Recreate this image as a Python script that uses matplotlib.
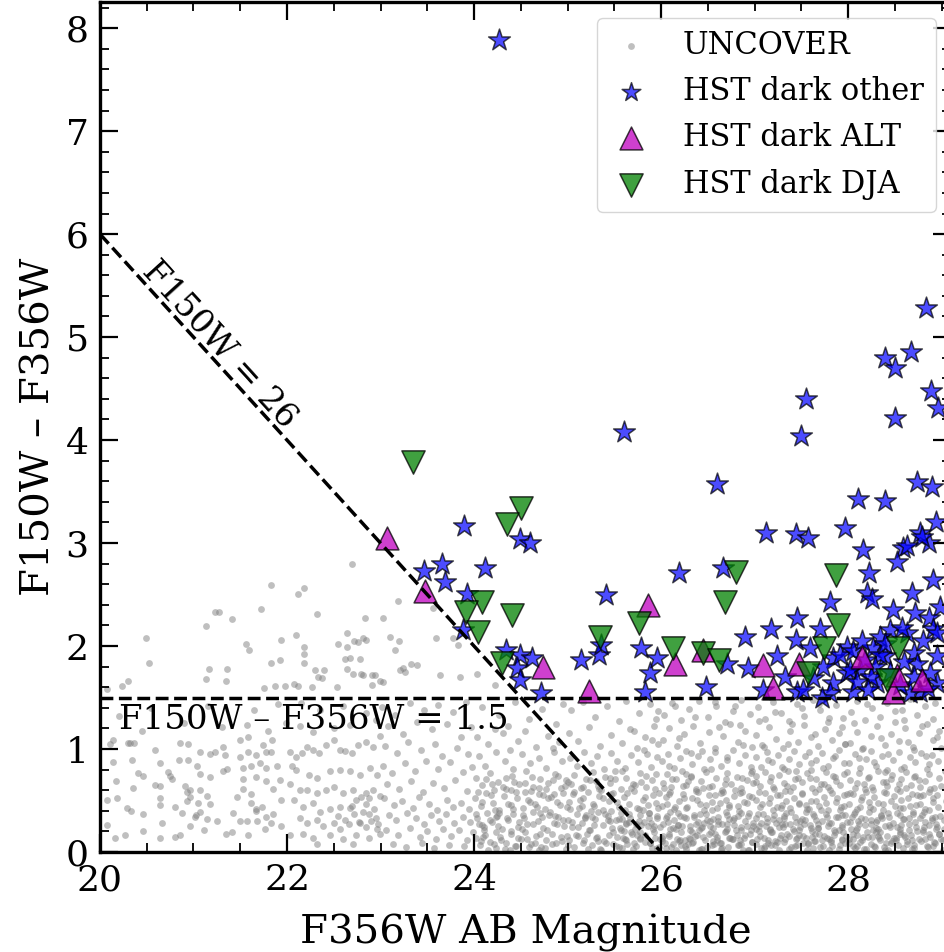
import matplotlib
matplotlib.use("Agg")
import matplotlib.pyplot as plt
from matplotlib.ticker import MultipleLocator

plt.rcParams['font.family'] = ['DejaVu Serif']

# UNCOVER background sources as (F356W, F150W-F356W)
uncover_upper = [(22.70,2.80),(21.83,2.59),(22.12,2.51),(22.18,2.56),(21.72,2.36),(21.23,2.33),(21.27,2.33),
    (21.41,2.26),(21.13,2.19),(22.32,2.31),(22.83,2.27),(23.03,2.27),(23.19,2.44),(20.49,2.08),(21.56,2.02),
    (21.59,1.96),(21.94,2.06),(22.10,2.11),(22.18,1.99),(22.18,1.92),(22.55,2.02),(22.64,2.13),(22.64,1.99),
    (22.72,2.05),(22.76,2.04),(22.85,2.06),(23.10,2.09),(23.20,2.05),(23.16,1.96),(20.52,1.84),(21.17,1.78),
    (21.36,1.78),(21.83,1.84),(21.93,1.86),(22.18,1.84),(21.13,1.68),(21.35,1.66),(22.30,1.77),(22.33,1.70),
    (22.37,1.69),(22.40,1.77),(22.62,1.87),(22.67,1.88),(22.78,1.87),(22.64,1.78),(22.71,1.73),(22.79,1.73),
    (22.91,1.72),(22.99,1.66),(23.21,1.77),(23.24,1.79),(23.33,1.83),(20.30,1.66),(20.24,1.61),(21.75,1.59),
    (21.87,1.61),(21.98,1.61),(22.07,1.63),(22.12,1.61),(22.27,1.60),(22.53,1.60),(22.91,1.62),(20.07,1.58),
    (23.56,2.37),(22.81,2.08),(23.59,2.08),(23.78,2.08),(23.83,2.01),(23.39,1.82),(23.26,1.75),(23.64,1.72),
    (23.85,1.70),(24.03,1.73),(22.94,1.72),(23.03,1.65),(24.22,1.62),(22.81,1.72)]

uncover_20 = [(20.14,1.09),(20.11,1.05),(20.14,0.87),(20.30,1.06),(20.36,1.06),(20.34,0.89),(20.41,0.77),
    (20.46,0.74),(20.17,0.69),(20.35,0.62),(20.18,0.52),(20.07,0.51),(20.29,0.43),(20.33,0.40),(20.46,0.37),
    (20.07,0.26),(20.27,0.17),(20.16,0.14),(20.46,0.20),(20.64,0.14),(20.59,0.99),(20.64,0.86),(20.73,0.78),
    (20.75,0.74),(20.59,0.65),(20.64,0.64),(20.77,0.71),(20.64,0.52),(20.64,0.46),(20.80,0.44),(20.66,0.28),
    (20.80,0.15),(20.86,0.17),(20.88,0.38),(20.86,1.06),(20.94,1.05),(20.84,0.89),(20.94,0.89),(20.91,0.64),
    (20.93,0.58),(20.96,0.53),(20.93,0.50),(20.96,0.60),(20.96,0.25),(20.20,1.32),(20.55,1.40),(20.90,1.25),
    (20.45,1.18),(20.32,1.06)]

uncover_21 = [(21.02,0.34),(21.07,0.97),(21.18,0.95),(21.23,0.97),(21.32,1.02),(21.34,0.94),(21.07,0.76),
    (21.18,0.73),(21.32,0.79),(21.36,0.81),(21.04,0.84),(21.07,0.60),(21.14,0.54),(21.05,0.48),(21.18,0.47),
    (21.07,0.39),(21.03,0.36),(21.14,0.32),(21.11,0.21),(21.25,0.30),(21.35,0.18),(21.42,0.38),(21.46,0.53),
    (21.53,0.61),(21.61,0.56),(21.61,0.48),(21.67,0.42),(21.67,0.40),(21.73,0.44),(21.78,0.34),(21.83,0.28),
    (21.85,0.37),(21.94,0.25),(21.50,0.30),(21.57,0.30),(21.68,0.30),(21.41,0.19),(21.58,0.17),(21.76,0.22),
    (21.50,1.09),(21.58,1.12),(21.74,1.04),(21.84,1.09),(21.50,0.92),(21.58,0.97),(21.67,0.94),(21.78,0.97),
    (21.83,0.97),(21.53,0.82),(21.62,0.84),(21.71,0.86),(21.78,0.82),(21.89,0.84),(21.53,0.71),(21.67,0.73),
    (21.78,0.69),(21.92,0.70),(21.85,0.61),(21.94,0.51),(21.99,1.25),(21.57,1.23),(21.80,1.18),(21.30,1.21),
    (21.15,1.42),(21.65,1.38),(21.90,1.44)]

uncover_22 = [(22.05,0.84),(22.03,0.97),(22.10,0.92),(22.16,0.96),(22.21,1.02),(22.28,0.99),(22.34,0.96),
    (22.42,1.04),(22.50,1.09),(22.57,0.99),(22.62,0.98),(22.69,0.96),(22.76,1.04),(22.85,1.07),(22.92,1.02),
    (22.99,1.13),(22.28,1.17),(22.50,1.20),(22.67,1.23),(22.14,1.22),(22.10,0.80),(22.23,0.75),(22.32,0.72),
    (22.46,0.79),(22.57,0.80),(22.67,0.79),(22.78,0.75),(22.89,0.82),(22.96,0.75),(22.03,0.66),(22.14,0.60),
    (22.21,0.60),(22.32,0.57),(22.42,0.60),(22.50,0.63),(22.60,0.57),(22.71,0.60),(22.74,0.51),(22.85,0.57),
    (22.92,0.60),(22.99,0.54),(22.07,0.51),(22.17,0.44),(22.28,0.48),(22.35,0.39),(22.46,0.42),(22.57,0.44),
    (22.67,0.43),(22.72,0.37),(22.81,0.39),(22.88,0.37),(22.95,0.33),(22.14,0.33),(22.21,0.28),(22.32,0.31),
    (22.39,0.25),(22.50,0.28),(22.57,0.22),(22.66,0.27),(22.78,0.28),(22.85,0.24),(22.96,0.22),(22.03,0.17),
    (22.17,0.18),(22.28,0.14),(22.46,0.17),(22.60,0.13),(22.74,0.17),(22.88,0.14),(22.99,0.18),(22.32,0.08),
    (22.71,0.08),(22.55,0.35),(22.62,0.31),(22.70,0.45),(22.77,0.29),(22.84,0.47),(22.90,0.30),(22.93,0.42),
    (22.97,0.27),(22.88,0.52),(22.79,0.53),(22.35,1.38),(22.60,1.42),(22.85,1.35),(22.15,1.45),(22.95,1.28)]

uncover_23 = [(23.02,1.41),(23.15,1.33),(23.31,1.45),(23.47,1.38),(23.62,1.43),(23.78,1.36),(23.91,1.46),
    (23.08,1.22),(23.24,1.15),(23.39,1.26),(23.55,1.19),(23.71,1.24),(23.86,1.12),(23.97,1.21),(23.05,1.03),
    (23.18,0.96),(23.29,1.07),(23.43,0.99),(23.58,1.05),(23.66,0.93),(23.82,1.01),(23.94,0.95),(23.03,0.84),
    (23.12,0.77),(23.26,0.86),(23.37,0.79),(23.49,0.88),(23.61,0.81),(23.74,0.87),(23.88,0.78),(23.98,0.83),
    (23.07,0.66),(23.20,0.61),(23.33,0.69),(23.45,0.58),(23.56,0.67),(23.68,0.62),(23.80,0.70),(23.92,0.59),
    (23.04,0.52),(23.14,0.46),(23.23,0.50),(23.35,0.43),(23.41,0.53),(23.52,0.47),(23.60,0.41),(23.71,0.51),
    (23.77,0.44),(23.86,0.48),(23.95,0.42),(23.09,0.36),(23.17,0.31),(23.28,0.38),(23.38,0.33),(23.46,0.27),
    (23.54,0.36),(23.63,0.30),(23.70,0.37),(23.79,0.28),(23.88,0.34),(23.96,0.29),(23.06,0.21),(23.19,0.17),
    (23.31,0.23),(23.42,0.15),(23.50,0.20),(23.59,0.13),(23.67,0.22),(23.75,0.16),(23.84,0.21),(23.93,0.12),
    (23.99,0.19),(23.13,0.08),(23.27,0.05),(23.44,0.09),(23.57,0.04),(23.73,0.07),(23.89,0.06)]

uncover_24 = [(24.08,1.41),(24.27,1.33),(24.44,1.46),(24.59,1.29),(24.73,1.39),(24.88,1.24),(24.95,1.44),
    (24.36,1.22),(24.03,1.12),(24.15,1.05),(24.31,1.16),(24.47,1.08),(24.55,1.18),(24.66,1.02),(24.79,1.13),
    (24.91,1.07),(24.22,1.19),(24.84,1.01),(24.05,0.93),(24.12,0.84),(24.24,0.97),(24.33,0.88),(24.42,0.81),
    (24.51,0.95),(24.60,0.86),(24.69,0.91),(24.77,0.82),(24.86,0.97),(24.94,0.88),(24.38,0.99),(24.02,0.72),
    (24.09,0.65),(24.17,0.77),(24.26,0.68),(24.34,0.61),(24.41,0.74),(24.48,0.66),(24.56,0.79),(24.63,0.63),
    (24.71,0.71),(24.79,0.67),(24.87,0.76),(24.93,0.62),(24.98,0.70),(24.21,0.60),(24.01,0.52),(24.07,0.45),
    (24.13,0.57),(24.20,0.48),(24.27,0.41),(24.32,0.54),(24.39,0.46),(24.45,0.58),(24.52,0.43),(24.58,0.51),
    (24.65,0.47),(24.70,0.56),(24.76,0.42),(24.82,0.53),(24.89,0.49),(24.95,0.57),(24.99,0.44),(24.61,0.59),
    (24.03,0.33),(24.08,0.26),(24.14,0.38),(24.19,0.29),(24.25,0.35),(24.30,0.22),(24.36,0.31),(24.42,0.37),
    (24.47,0.24),(24.53,0.33),(24.57,0.27),(24.63,0.39),(24.68,0.30),(24.74,0.23),(24.80,0.36),(24.85,0.28),
    (24.90,0.34),(24.96,0.25),(24.11,0.21),(24.71,0.38),(24.02,0.14),(24.06,0.07),(24.12,0.17),(24.17,0.10),
    (24.23,0.04),(24.28,0.15),(24.34,0.09),(24.40,0.18),(24.45,0.06),(24.50,0.13),(24.55,0.19),(24.61,0.08),
    (24.66,0.16),(24.72,0.05),(24.77,0.12),(24.83,0.18),(24.88,0.09),(24.93,0.15),(24.98,0.03),(24.38,0.02)]

uncover_25 = [(25.04,1.38),(25.17,1.46),(25.29,1.31),(25.42,1.42),(25.55,1.27),(25.63,1.47),(25.76,1.35),
    (25.88,1.44),(25.95,1.29),(25.02,1.16),(25.11,1.08),(25.23,1.21),(25.35,1.03),(25.46,1.14),(25.58,1.06),
    (25.67,1.19),(25.74,1.01),(25.83,1.12),(25.92,1.22),(25.97,1.05),(25.03,0.91),(25.10,0.84),(25.18,0.97),
    (25.25,0.86),(25.32,0.93),(25.39,0.81),(25.47,0.96),(25.53,0.88),(25.61,0.82),(25.68,0.94),(25.75,0.87),
    (25.82,0.99),(25.89,0.83),(25.96,0.92),(25.01,0.68),(25.07,0.75),(25.14,0.62),(25.20,0.71),(25.27,0.78),
    (25.33,0.64),(25.40,0.73),(25.45,0.67),(25.51,0.79),(25.57,0.61),(25.63,0.72),(25.70,0.66),(25.77,0.77),
    (25.84,0.63),(25.90,0.70),(25.95,0.76),(25.36,0.60),(25.02,0.49),(25.06,0.56),(25.12,0.43),(25.17,0.52),
    (25.22,0.58),(25.28,0.45),(25.34,0.54),(25.38,0.41),(25.44,0.50),(25.49,0.57),(25.55,0.44),(25.60,0.53),
    (25.66,0.47),(25.71,0.59),(25.76,0.42),(25.81,0.51),(25.86,0.46),(25.91,0.55),(25.97,0.43),(25.25,0.40),
    (25.01,0.31),(25.05,0.24),(25.10,0.37),(25.15,0.28),(25.19,0.34),(25.24,0.21),(25.29,0.32),(25.33,0.39),
    (25.38,0.26),(25.43,0.35),(25.48,0.23),(25.52,0.31),(25.57,0.38),(25.62,0.27),(25.67,0.33),(25.72,0.22),
    (25.77,0.36),(25.82,0.29),(25.87,0.38),(25.92,0.25),(25.96,0.33),(25.45,0.30),(25.02,0.12),(25.07,0.05),
    (25.11,0.16),(25.16,0.09),(25.21,0.18),(25.26,0.07),(25.30,0.14),(25.35,0.03),(25.39,0.11),(25.44,0.17),
    (25.49,0.08),(25.53,0.15),(25.58,0.04),(25.63,0.12),(25.68,0.19),(25.73,0.06),(25.78,0.13),(25.83,0.17),
    (25.88,0.09),(25.93,0.14),(25.98,0.05),(25.60,0.20)]

uncover_26 = [(26.03,1.33),(26.12,1.45),(26.21,1.28),(26.30,1.39),(26.41,1.47),(26.50,1.31),(26.59,1.42),
    (26.68,1.26),(26.77,1.37),(26.86,1.48),(26.95,1.34),(26.02,1.09),(26.09,1.20),(26.17,1.03),(26.25,1.15),
    (26.34,1.22),(26.42,1.06),(26.51,1.17),(26.58,1.01),(26.66,1.13),(26.74,1.24),(26.82,1.07),(26.90,1.18),
    (26.97,1.02),(26.01,0.88),(26.07,0.95),(26.14,0.82),(26.20,0.91),(26.27,0.98),(26.33,0.85),(26.39,0.93),
    (26.46,0.81),(26.52,0.90),(26.58,0.97),(26.64,0.84),(26.71,0.92),(26.77,0.99),(26.83,0.86),(26.90,0.94),
    (26.96,0.83),(26.02,0.67),(26.06,0.76),(26.11,0.63),(26.16,0.71),(26.22,0.79),(26.27,0.65),(26.32,0.74),
    (26.37,0.61),(26.43,0.69),(26.48,0.78),(26.54,0.64),(26.59,0.72),(26.65,0.60),(26.70,0.77),(26.75,0.66),
    (26.81,0.73),(26.86,0.62),(26.92,0.70),(26.97,0.79),(26.01,0.45),(26.05,0.53),(26.10,0.58),(26.14,0.42),
    (26.19,0.50),(26.23,0.56),(26.28,0.44),(26.33,0.52),(26.37,0.59),(26.42,0.47),(26.46,0.41),(26.51,0.55),
    (26.55,0.49),(26.60,0.43),(26.64,0.57),(26.69,0.51),(26.73,0.46),(26.78,0.54),(26.83,0.40),(26.87,0.58),
    (26.92,0.48),(26.97,0.53),(26.02,0.27),(26.06,0.35),(26.10,0.22),(26.14,0.31),(26.18,0.38),(26.22,0.25),
    (26.27,0.33),(26.31,0.21),(26.35,0.36),(26.39,0.29),(26.44,0.24),(26.48,0.37),(26.52,0.30),(26.56,0.23),
    (26.61,0.34),(26.65,0.27),(26.69,0.39),(26.73,0.32),(26.78,0.26),(26.82,0.35),(26.86,0.21),(26.90,0.30),
    (26.94,0.38),(26.98,0.25),(26.01,0.11),(26.05,0.04),(26.09,0.16),(26.13,0.08),(26.17,0.13),(26.21,0.19),
    (26.26,0.06),(26.30,0.14),(26.34,0.10),(26.38,0.17),(26.43,0.03),(26.47,0.12),(26.51,0.18),(26.55,0.07),
    (26.60,0.15),(26.64,0.09),(26.68,0.19),(26.72,0.05),(26.77,0.13),(26.81,0.17),(26.85,0.08),(26.89,0.14),
    (26.93,0.02),(26.97,0.10)]

uncover_27 = [(27.04,1.41),(27.11,1.29),(27.20,1.46),(27.28,1.35),(27.37,1.27),(27.45,1.44),(27.53,1.32),
    (27.62,1.48),(27.70,1.38),(27.79,1.26),(27.87,1.43),(27.95,1.30),(27.01,1.14),(27.08,1.04),(27.15,1.21),
    (27.23,1.10),(27.30,1.01),(27.38,1.18),(27.46,1.07),(27.53,1.23),(27.60,1.12),(27.68,1.03),(27.75,1.19),
    (27.83,1.09),(27.90,1.16),(27.97,1.05),(27.02,0.92),(27.07,0.83),(27.13,0.97),(27.19,0.87),(27.25,0.94),
    (27.31,0.81),(27.37,0.90),(27.42,0.98),(27.48,0.85),(27.54,0.93),(27.60,0.80),(27.66,0.89),(27.72,0.96),
    (27.78,0.84),(27.84,0.91),(27.90,0.99),(27.96,0.86),(27.01,0.74),(27.06,0.64),(27.11,0.78),(27.16,0.69),
    (27.21,0.61),(27.26,0.75),(27.31,0.67),(27.36,0.79),(27.41,0.63),(27.46,0.72),(27.51,0.68),(27.56,0.77),
    (27.61,0.62),(27.66,0.71),(27.71,0.66),(27.76,0.78),(27.81,0.60),(27.86,0.73),(27.91,0.65),(27.96,0.76),
    (27.02,0.51),(27.06,0.44),(27.11,0.57),(27.15,0.48),(27.20,0.41),(27.24,0.55),(27.29,0.46),(27.33,0.59),
    (27.38,0.43),(27.42,0.52),(27.47,0.47),(27.51,0.56),(27.56,0.42),(27.60,0.50),(27.65,0.58),(27.69,0.45),
    (27.74,0.53),(27.78,0.41),(27.83,0.57),(27.87,0.49),(27.92,0.44),(27.96,0.55),(27.01,0.33),(27.05,0.25),
    (27.09,0.37),(27.13,0.29),(27.17,0.22),(27.21,0.36),(27.26,0.31),(27.30,0.24),(27.34,0.38),(27.38,0.27),
    (27.43,0.34),(27.47,0.21),(27.51,0.32),(27.55,0.39),(27.59,0.26),(27.64,0.35),(27.68,0.23),(27.72,0.30),
    (27.76,0.37),(27.80,0.28),(27.85,0.21),(27.89,0.34),(27.93,0.26),(27.97,0.36),(27.02,0.08),(27.06,0.16),
    (27.10,0.04),(27.14,0.12),(27.18,0.19),(27.22,0.07),(27.27,0.14),(27.31,0.10),(27.35,0.18),(27.39,0.05),
    (27.44,0.13),(27.48,0.17),(27.52,0.09),(27.56,0.02),(27.61,0.15),(27.65,0.11),(27.69,0.18),(27.73,0.06),
    (27.77,0.14),(27.82,0.10),(27.86,0.19),(27.90,0.03),(27.94,0.12),(27.98,0.16)]

uncover_28 = [(28.03,1.36),(28.10,1.47),(28.18,1.28),(28.26,1.40),(28.34,1.31),(28.42,1.45),(28.50,1.26),
    (28.58,1.38),(28.66,1.49),(28.74,1.33),(28.82,1.42),(28.91,1.29),(28.02,1.06),(28.09,1.17),(28.16,1.01),
    (28.24,1.13),(28.31,1.22),(28.39,1.04),(28.46,1.15),(28.54,1.08),(28.61,1.20),(28.69,1.02),(28.76,1.16),
    (28.84,1.24),(28.91,1.09),(28.97,1.18),(28.01,0.86),(28.07,0.95),(28.13,0.82),(28.19,0.90),(28.25,0.98),
    (28.30,0.84),(28.36,0.93),(28.42,0.80),(28.48,0.89),(28.54,0.97),(28.60,0.83),(28.66,0.92),(28.72,0.87),
    (28.78,0.96),(28.84,0.81),(28.90,0.94),(28.96,0.88),(28.02,0.70),(28.07,0.62),(28.12,0.77),(28.17,0.66),
    (28.22,0.73),(28.27,0.60),(28.32,0.79),(28.37,0.68),(28.42,0.64),(28.47,0.75),(28.52,0.61),(28.57,0.71),
    (28.62,0.78),(28.67,0.65),(28.72,0.74),(28.77,0.63),(28.82,0.69),(28.87,0.76),(28.92,0.62),(28.97,0.72),
    (28.01,0.47),(28.05,0.56),(28.10,0.42),(28.14,0.51),(28.19,0.58),(28.23,0.44),(28.28,0.53),(28.32,0.48),
    (28.37,0.41),(28.41,0.57),(28.46,0.50),(28.50,0.45),(28.55,0.59),(28.59,0.43),(28.64,0.52),(28.68,0.56),
    (28.73,0.46),(28.77,0.54),(28.82,0.42),(28.86,0.58),(28.91,0.49),(28.95,0.55),(28.02,0.29),(28.06,0.37),
    (28.10,0.23),(28.14,0.33),(28.18,0.26),(28.22,0.39),(28.27,0.21),(28.31,0.31),(28.35,0.36),(28.39,0.25),
    (28.44,0.34),(28.48,0.28),(28.52,0.38),(28.56,0.22),(28.60,0.32),(28.65,0.27),(28.69,0.37),(28.73,0.24),
    (28.77,0.33),(28.81,0.39),(28.86,0.26),(28.90,0.31),(28.94,0.22),(28.98,0.35),(28.01,0.13),(28.05,0.06),
    (28.09,0.17),(28.13,0.10),(28.17,0.03),(28.21,0.15),(28.25,0.08),(28.30,0.19),(28.34,0.12),(28.38,0.05),
    (28.42,0.16),(28.46,0.09),(28.51,0.14),(28.55,0.18),(28.59,0.04),(28.63,0.11),(28.67,0.17),(28.71,0.07),
    (28.76,0.13),(28.80,0.19),(28.84,0.06),(28.88,0.15),(28.92,0.10),(28.97,0.18)]

# the crowded core of the cloud, below ~0.75
uncover_core = [(24.04,0.58),(24.11,0.24),(24.19,0.66),(24.07,0.11),(24.22,0.41),(24.15,0.02),(24.02,0.37),
    (24.24,0.19),(24.09,0.49),(24.17,0.31),(24.13,0.71),(24.21,0.08),(24.05,0.27),(24.18,0.55),(24.10,0.15),
    (24.23,0.34),(24.29,0.12),(24.36,0.47),(24.44,0.06),(24.31,0.63),(24.48,0.29),(24.27,0.38),(24.40,0.20),
    (24.34,0.72),(24.46,0.52),(24.33,0.03),(24.42,0.42),(24.26,0.25),(24.39,0.60),(24.47,0.14),(24.35,0.33),
    (24.43,0.68),(24.52,0.36),(24.59,0.05),(24.67,0.44),(24.55,0.67),(24.71,0.18),(24.63,0.27),(24.74,0.55),
    (24.57,0.13),(24.69,0.62),(24.51,0.22),(24.65,0.09),(24.73,0.34),(24.60,0.49),(24.54,0.58),(24.70,0.02),
    (24.62,0.73),(24.78,0.21),(24.86,0.56),(24.94,0.11),(24.81,0.39),(24.97,0.64),(24.76,0.04),(24.89,0.27),
    (24.84,0.70),(24.92,0.46),(24.79,0.52),(24.99,0.16),(24.87,0.35),(24.77,0.61),(24.95,0.31),(24.83,0.08),
    (24.90,0.74),(25.03,0.42),(25.09,0.17),(25.16,0.63),(25.22,0.03),(25.05,0.29),(25.13,0.51),(25.20,0.36),
    (25.24,0.70),(25.01,0.07),(25.11,0.24),(25.18,0.12),(25.07,0.58),(25.15,0.45),(25.23,0.21),(25.04,0.66),
    (25.19,0.33),(25.28,0.26),(25.34,0.61),(25.41,0.09),(25.47,0.40),(25.31,0.15),(25.38,0.52),(25.45,0.72),
    (25.27,0.47),(25.36,0.02),(25.43,0.31),(25.49,0.19),(25.30,0.69),(25.40,0.37),(25.33,0.11),(25.46,0.56),
    (25.26,0.34),(25.53,0.49),(25.59,0.14),(25.66,0.37),(25.72,0.65),(25.55,0.05),(25.62,0.28),(25.69,0.18),
    (25.74,0.43),(25.51,0.71),(25.58,0.32),(25.64,0.57),(25.71,0.09),(25.56,0.23),(25.68,0.62),(25.61,0.41),
    (25.73,0.27),(25.77,0.19),(25.83,0.53),(25.90,0.04),(25.96,0.35),(25.79,0.68),(25.86,0.25),(25.93,0.61),
    (25.99,0.13),(25.81,0.41),(25.88,0.09),(25.95,0.48),(25.76,0.30),(25.84,0.74),(25.91,0.22),(25.98,0.57),
    (25.87,0.38),(26.03,0.62),(26.08,0.18),(26.15,0.44),(26.21,0.07),(26.05,0.33),(26.12,0.71),(26.18,0.26),
    (26.24,0.52),(26.01,0.14),(26.10,0.39),(26.16,0.02),(26.23,0.64),(26.06,0.47),(26.13,0.23),(26.20,0.35),
    (26.09,0.56),(26.19,0.11),(26.27,0.43),(26.33,0.09),(26.40,0.58),(26.46,0.28),(26.29,0.69),(26.36,0.16),
    (26.42,0.37),(26.49,0.05),(26.31,0.25),(26.38,0.51),(26.45,0.62),(26.26,0.12),(26.35,0.34),(26.41,0.21),
    (26.48,0.46),(26.32,0.73),(26.44,0.03),(26.53,0.19),(26.58,0.55),(26.64,0.03),(26.71,0.36),(26.55,0.41),
    (26.61,0.27),(26.68,0.66),(26.74,0.14),(26.51,0.63),(26.57,0.08),(26.63,0.48),(26.70,0.22),(26.56,0.32),
    (26.66,0.58),(26.73,0.44),(26.60,0.12),(26.69,0.71),(26.77,0.31),(26.83,0.07),(26.89,0.49),(26.95,0.18),
    (26.79,0.60),(26.85,0.38),(26.92,0.25),(26.98,0.67),(26.76,0.13),(26.82,0.45),(26.88,0.02),(26.94,0.54),
    (26.80,0.21),(26.87,0.72),(26.93,0.35),(26.97,0.10),(26.84,0.57),(27.02,0.22),(27.08,0.47),(27.14,0.09),
    (27.20,0.63),(27.04,0.37),(27.10,0.14),(27.17,0.52),(27.23,0.28),(27.01,0.68),(27.07,0.04),(27.13,0.33),
    (27.19,0.19),(27.24,0.44),(27.05,0.58),(27.12,0.25),(27.18,0.73),(27.22,0.11),(27.27,0.55),(27.33,0.13),
    (27.39,0.39),(27.45,0.07),(27.29,0.27),(27.35,0.64),(27.42,0.20),(27.48,0.48),(27.26,0.02),(27.32,0.35),
    (27.38,0.59),(27.44,0.29),(27.28,0.43),(27.37,0.16),(27.43,0.71),(27.49,0.24),(27.34,0.50),(27.52,0.16),
    (27.58,0.42),(27.63,0.04),(27.69,0.61),(27.54,0.31),(27.60,0.23),(27.66,0.50),(27.72,0.12),(27.51,0.57),
    (27.57,0.08),(27.62,0.37),(27.68,0.27),(27.74,0.66),(27.55,0.46),(27.65,0.18),(27.71,0.41),(27.59,0.72),
    (27.77,0.34),(27.83,0.06),(27.88,0.52),(27.94,0.24),(27.79,0.63),(27.85,0.17),(27.91,0.41),(27.97,0.09),
    (27.76,0.48),(27.82,0.28),(27.87,0.69),(27.93,0.36),(27.99,0.56),(27.80,0.13),(27.90,0.21),(27.96,0.45),
    (27.84,0.74),(28.02,0.57),(28.08,0.21),(28.13,0.44),(28.19,0.03),(28.04,0.34),(28.10,0.67),(28.16,0.15),
    (28.22,0.49),(28.01,0.09),(28.07,0.39),(28.12,0.27),(28.18,0.61),(28.24,0.31),(28.05,0.18),(28.15,0.53),
    (28.21,0.72),(28.09,0.06),(28.27,0.42),(28.33,0.14),(28.38,0.58),(28.44,0.26),(28.29,0.05),(28.35,0.35),
    (28.41,0.68),(28.47,0.11),(28.26,0.63),(28.32,0.22),(28.37,0.47),(28.43,0.38),(28.49,0.54),(28.30,0.29),
    (28.40,0.02),(28.46,0.71),(28.34,0.19),(28.52,0.24),(28.57,0.51),(28.63,0.08),(28.69,0.39),(28.54,0.66),
    (28.60,0.17),(28.66,0.45),(28.72,0.29),(28.51,0.12),(28.56,0.36),(28.62,0.62),(28.68,0.03),(28.74,0.55),
    (28.55,0.43),(28.65,0.21),(28.71,0.73),(28.59,0.32),(28.77,0.47),(28.82,0.13),(28.88,0.61),(28.94,0.27),
    (28.79,0.36),(28.85,0.05),(28.91,0.52),(28.97,0.18),(28.76,0.70),(28.81,0.24),(28.87,0.41),(28.93,0.09),
    (28.99,0.64),(28.80,0.55),(28.90,0.33),(28.96,0.44),(29.03,0.22),(29.05,0.50),(29.02,0.12),(29.07,0.38)]

uncover_mid = [(25.58,0.79),(25.71,1.18),(25.85,0.95),(25.97,1.37),(26.08,0.84),(26.19,1.11),(26.27,0.76),
    (26.36,1.31),(26.44,0.98),(26.53,0.81),(26.62,1.21),(26.70,0.89),(26.79,1.42),(26.88,1.04),(26.96,0.77),
    (27.05,1.27),(27.14,0.89),(27.22,1.36),(27.29,0.83),(27.36,1.05),(27.44,0.79),(27.51,1.40),(27.58,0.97),
    (27.65,1.15),(27.73,0.82),(27.80,1.30),(27.86,0.93),(27.93,1.21),(27.99,0.78),(28.06,1.25),(28.12,0.91),
    (28.20,1.44),(28.28,0.87),(28.35,1.11),(28.43,0.95),(28.50,1.37),(28.57,0.81),(28.64,1.07),(28.71,0.99),
    (28.79,1.22),(28.86,0.85),(28.93,1.45),(28.99,1.01),(29.04,0.79),(29.06,1.19),(26.15,1.42),(26.58,1.46),
    (27.10,1.02),(27.69,1.44),(28.15,1.00),(28.60,1.28),(28.95,1.12),(27.40,1.24),(26.32,0.96),(27.97,1.05),
    (28.40,0.78),(28.83,0.93),(25.90,1.09),(26.84,1.23),(27.60,0.86)]

uncover_floor = [(25.52,0.06),(25.57,0.21),(25.61,0.13),(25.66,0.29),(25.70,0.03),(25.74,0.17),(25.79,0.26),
    (25.83,0.10),(25.87,0.33),(25.92,0.19),(25.96,0.04),(25.99,0.24),(25.55,0.32),(25.64,0.08),(25.77,0.14),
    (25.89,0.28),(26.02,0.16),(26.07,0.29),(26.11,0.05),(26.16,0.22),(26.20,0.12),(26.24,0.34),(26.29,0.08),
    (26.33,0.19),(26.37,0.27),(26.41,0.02),(26.45,0.15),(26.49,0.31),(26.04,0.09),(26.18,0.26),(26.31,0.13),
    (26.43,0.23),(26.27,0.03),(26.52,0.25),(26.56,0.11),(26.61,0.30),(26.65,0.04),(26.69,0.20),(26.73,0.14),
    (26.78,0.33),(26.82,0.07),(26.86,0.24),(26.90,0.17),(26.94,0.02),(26.98,0.28),(26.58,0.18),(26.71,0.27),
    (26.84,0.12),(26.96,0.21),(26.63,0.09),(27.03,0.13),(27.07,0.28),(27.11,0.06),(27.16,0.21),(27.20,0.32),
    (27.24,0.10),(27.28,0.17),(27.33,0.27),(27.37,0.03),(27.41,0.22),(27.45,0.14),(27.49,0.30),(27.05,0.20),
    (27.18,0.07),(27.31,0.33),(27.43,0.06),(27.26,0.24),(27.53,0.27),(27.57,0.09),(27.61,0.20),(27.66,0.31),
    (27.70,0.05),(27.74,0.16),(27.78,0.25),(27.82,0.12),(27.87,0.34),(27.91,0.07),(27.95,0.19),(27.99,0.29),
    (27.55,0.14),(27.68,0.23),(27.80,0.02),(27.93,0.13),(27.64,0.11),(28.03,0.22),(28.07,0.04),(28.11,0.30),
    (28.15,0.12),(28.20,0.19),(28.24,0.27),(28.28,0.06),(28.32,0.16),(28.36,0.33),(28.41,0.09),(28.45,0.24),
    (28.49,0.14),(28.05,0.13),(28.18,0.32),(28.30,0.23),(28.43,0.02),(28.26,0.15),(28.53,0.07),(28.57,0.26),
    (28.61,0.15),(28.65,0.33),(28.70,0.04),(28.74,0.20),(28.78,0.11),(28.82,0.29),(28.87,0.18),(28.91,0.06),
    (28.95,0.24),(28.99,0.13),(29.03,0.31),(29.06,0.08),(28.55,0.19),(28.68,0.12),(28.80,0.21),(28.93,0.34),
    (29.01,0.02),(29.08,0.17)]

# HST-dark sources
other_mag = [24.27, 25.60, 27.55, 27.50, 26.60, 28.83, 28.67, 28.39, 28.50, 28.89, 28.96, 28.50,
             28.74, 28.90, 28.11, 28.40, 28.94, 27.97, 27.12, 27.44, 27.57,
             23.89, 24.49, 24.60, 23.66, 23.47, 24.12, 23.69, 23.92, 23.88,
             25.41, 24.34, 24.49, 24.62, 24.46, 24.49, 24.72,
             25.14, 25.34, 25.36, 25.79, 25.88, 25.83, 25.96,
             28.16, 28.59, 28.52, 28.77, 28.86, 28.79, 28.63,
             28.22, 28.91, 28.68, 28.20, 28.26, 28.98, 27.81,
             28.48, 28.72, 28.86, 27.45, 27.18, 27.70, 26.90, 27.44,
             28.45, 28.63, 28.91, 28.58, 28.34, 28.95,
             27.99, 28.27, 27.24, 27.59, 27.84, 28.13, 28.40, 28.70, 28.95,
             26.93, 27.33, 27.63, 27.84, 27.99, 28.31, 28.95,
             27.09, 27.45, 27.81, 28.05, 28.77,
             26.19, 26.66, 26.48, 26.71,
             28.34, 27.91, 28.74, 28.29, 28.02, 27.73, 28.88, 28.24, 28.10, 28.21, 28.66, 27.52, 27.72,
             28.55, 28.85, 28.45, 28.60, 28.18, 28.05, 28.80, 28.40, 28.70, 28.15]
other_col = [7.88, 4.08, 4.40, 4.04, 3.57, 5.28, 4.86, 4.80, 4.70, 4.48, 4.31, 4.21,
             3.59, 3.54, 3.43, 3.41, 3.20, 3.15, 3.10, 3.09, 3.05,
             3.17, 3.04, 3.00, 2.80, 2.73, 2.76, 2.62, 2.51, 2.16,
             2.50, 1.96, 1.91, 1.88, 1.79, 1.67, 1.54,
             1.86, 1.91, 2.01, 1.98, 1.74, 1.55, 1.88,
             2.93, 2.95, 2.82, 3.10, 3.00, 3.06, 2.97,
             2.71, 2.64, 2.52, 2.52, 2.46, 2.38, 2.43,
             2.35, 2.32, 2.27, 2.27, 2.17, 2.17, 2.09, 2.06,
             2.16, 2.13, 2.17, 2.18, 2.09, 2.13,
             1.99, 1.98, 1.90, 1.98, 1.88, 1.77, 1.90, 1.93, 1.90,
             1.79, 1.70, 1.69, 1.64, 1.74, 1.64, 1.64,
             1.57, 1.55, 1.54, 1.55, 1.55,
             2.71, 2.76, 1.60, 1.83,
             1.91, 1.91, 1.83, 1.80, 1.77, 1.80, 1.74, 1.70, 1.65, 1.57, 1.54, 1.57, 1.50,
             1.62, 1.58, 1.75, 1.85, 1.86, 1.95, 2.05, 2.02, 1.70, 2.05]

alt_mag = [23.07, 23.48, 24.74, 25.23, 25.86, 26.15, 26.45, 27.09, 27.20, 27.48, 28.15, 28.48, 28.79, 28.52]
alt_col = [3.05, 2.53, 1.80, 1.56, 2.40, 1.83, 1.96, 1.82, 1.59, 1.83, 1.89, 1.55, 1.67, 1.72]

dja_mag = [23.35, 24.50, 24.35, 24.09, 23.91, 24.41, 24.04, 24.30, 25.35, 25.76,
           26.80, 26.68, 26.13, 26.45, 26.62, 27.87, 27.89, 27.74, 27.57, 28.53, 28.42]
dja_col = [3.79, 3.34, 3.19, 2.43, 2.33, 2.30, 2.14, 1.84, 2.09, 2.22,
           2.72, 2.43, 1.98, 1.93, 1.86, 2.69, 2.20, 1.98, 1.74, 1.98, 1.67]

uncover = (uncover_upper + uncover_20 + uncover_21 + uncover_22 + uncover_23 + uncover_24
           + uncover_25 + uncover_26 + uncover_27 + uncover_28 + uncover_core + uncover_mid
           + uncover_floor)
unc_x = [p[0] for p in uncover]
unc_y = [p[1] for p in uncover]

fig = plt.figure(figsize=(9.45, 9.52), dpi=100)
ax = fig.add_axes([0.1058, 0.105, 0.9005, 0.8925])

ax.scatter(unc_x, unc_y, s=24, color='gray', alpha=0.5, linewidths=0, label='UNCOVER')
ax.scatter(other_mag, other_col, marker='*', s=270, color='blue', alpha=0.7,
           edgecolors='k', linewidths=1.1, label='HST dark other')
ax.scatter(alt_mag, alt_col, marker='^', s=270, color='m', alpha=0.75,
           edgecolors='k', linewidths=1.1, label='HST dark ALT')
ax.scatter(dja_mag, dja_col, marker='v', s=280, color='g', alpha=0.75,
           edgecolors='k', linewidths=1.1, label='HST dark DJA')

# selection cuts
ax.axhline(1.5, color='k', ls='--', lw=2.5)
ax.plot([20, 26], [6, 0], color='k', ls='--', lw=2.5)
ax.text(20.2, 1.44, 'F150W – F356W = 1.5', fontsize=24.5, va='top', ha='left')
ax.text(21.28, 4.92, 'F150W = 26', fontsize=24, rotation=-47.8, ha='center', va='center')

ax.set_xlim(20, 29.1)
ax.set_ylim(0, 8.25)
ax.set_xlabel('F356W AB Magnitude', fontsize=29, labelpad=12)
ax.set_ylabel('F150W – F356W', fontsize=29, labelpad=6)

ax.xaxis.set_major_locator(MultipleLocator(2))
ax.xaxis.set_minor_locator(MultipleLocator(0.5))
ax.yaxis.set_major_locator(MultipleLocator(1))
ax.yaxis.set_minor_locator(MultipleLocator(0.2))
ax.tick_params(which='both', direction='in', top=True, right=True, labelsize=26)
ax.tick_params(which='major', length=13, width=1.6, pad=8)
ax.tick_params(which='minor', length=6.5, width=1.3)
for sp in ax.spines.values():
    sp.set_linewidth(2.4)

leg = ax.legend(loc='upper right', fontsize=22, handlelength=1.4, handletextpad=1.0)
leg.legend_handles[1].set_sizes([200])

fig.savefig('out.png', dpi=100)
